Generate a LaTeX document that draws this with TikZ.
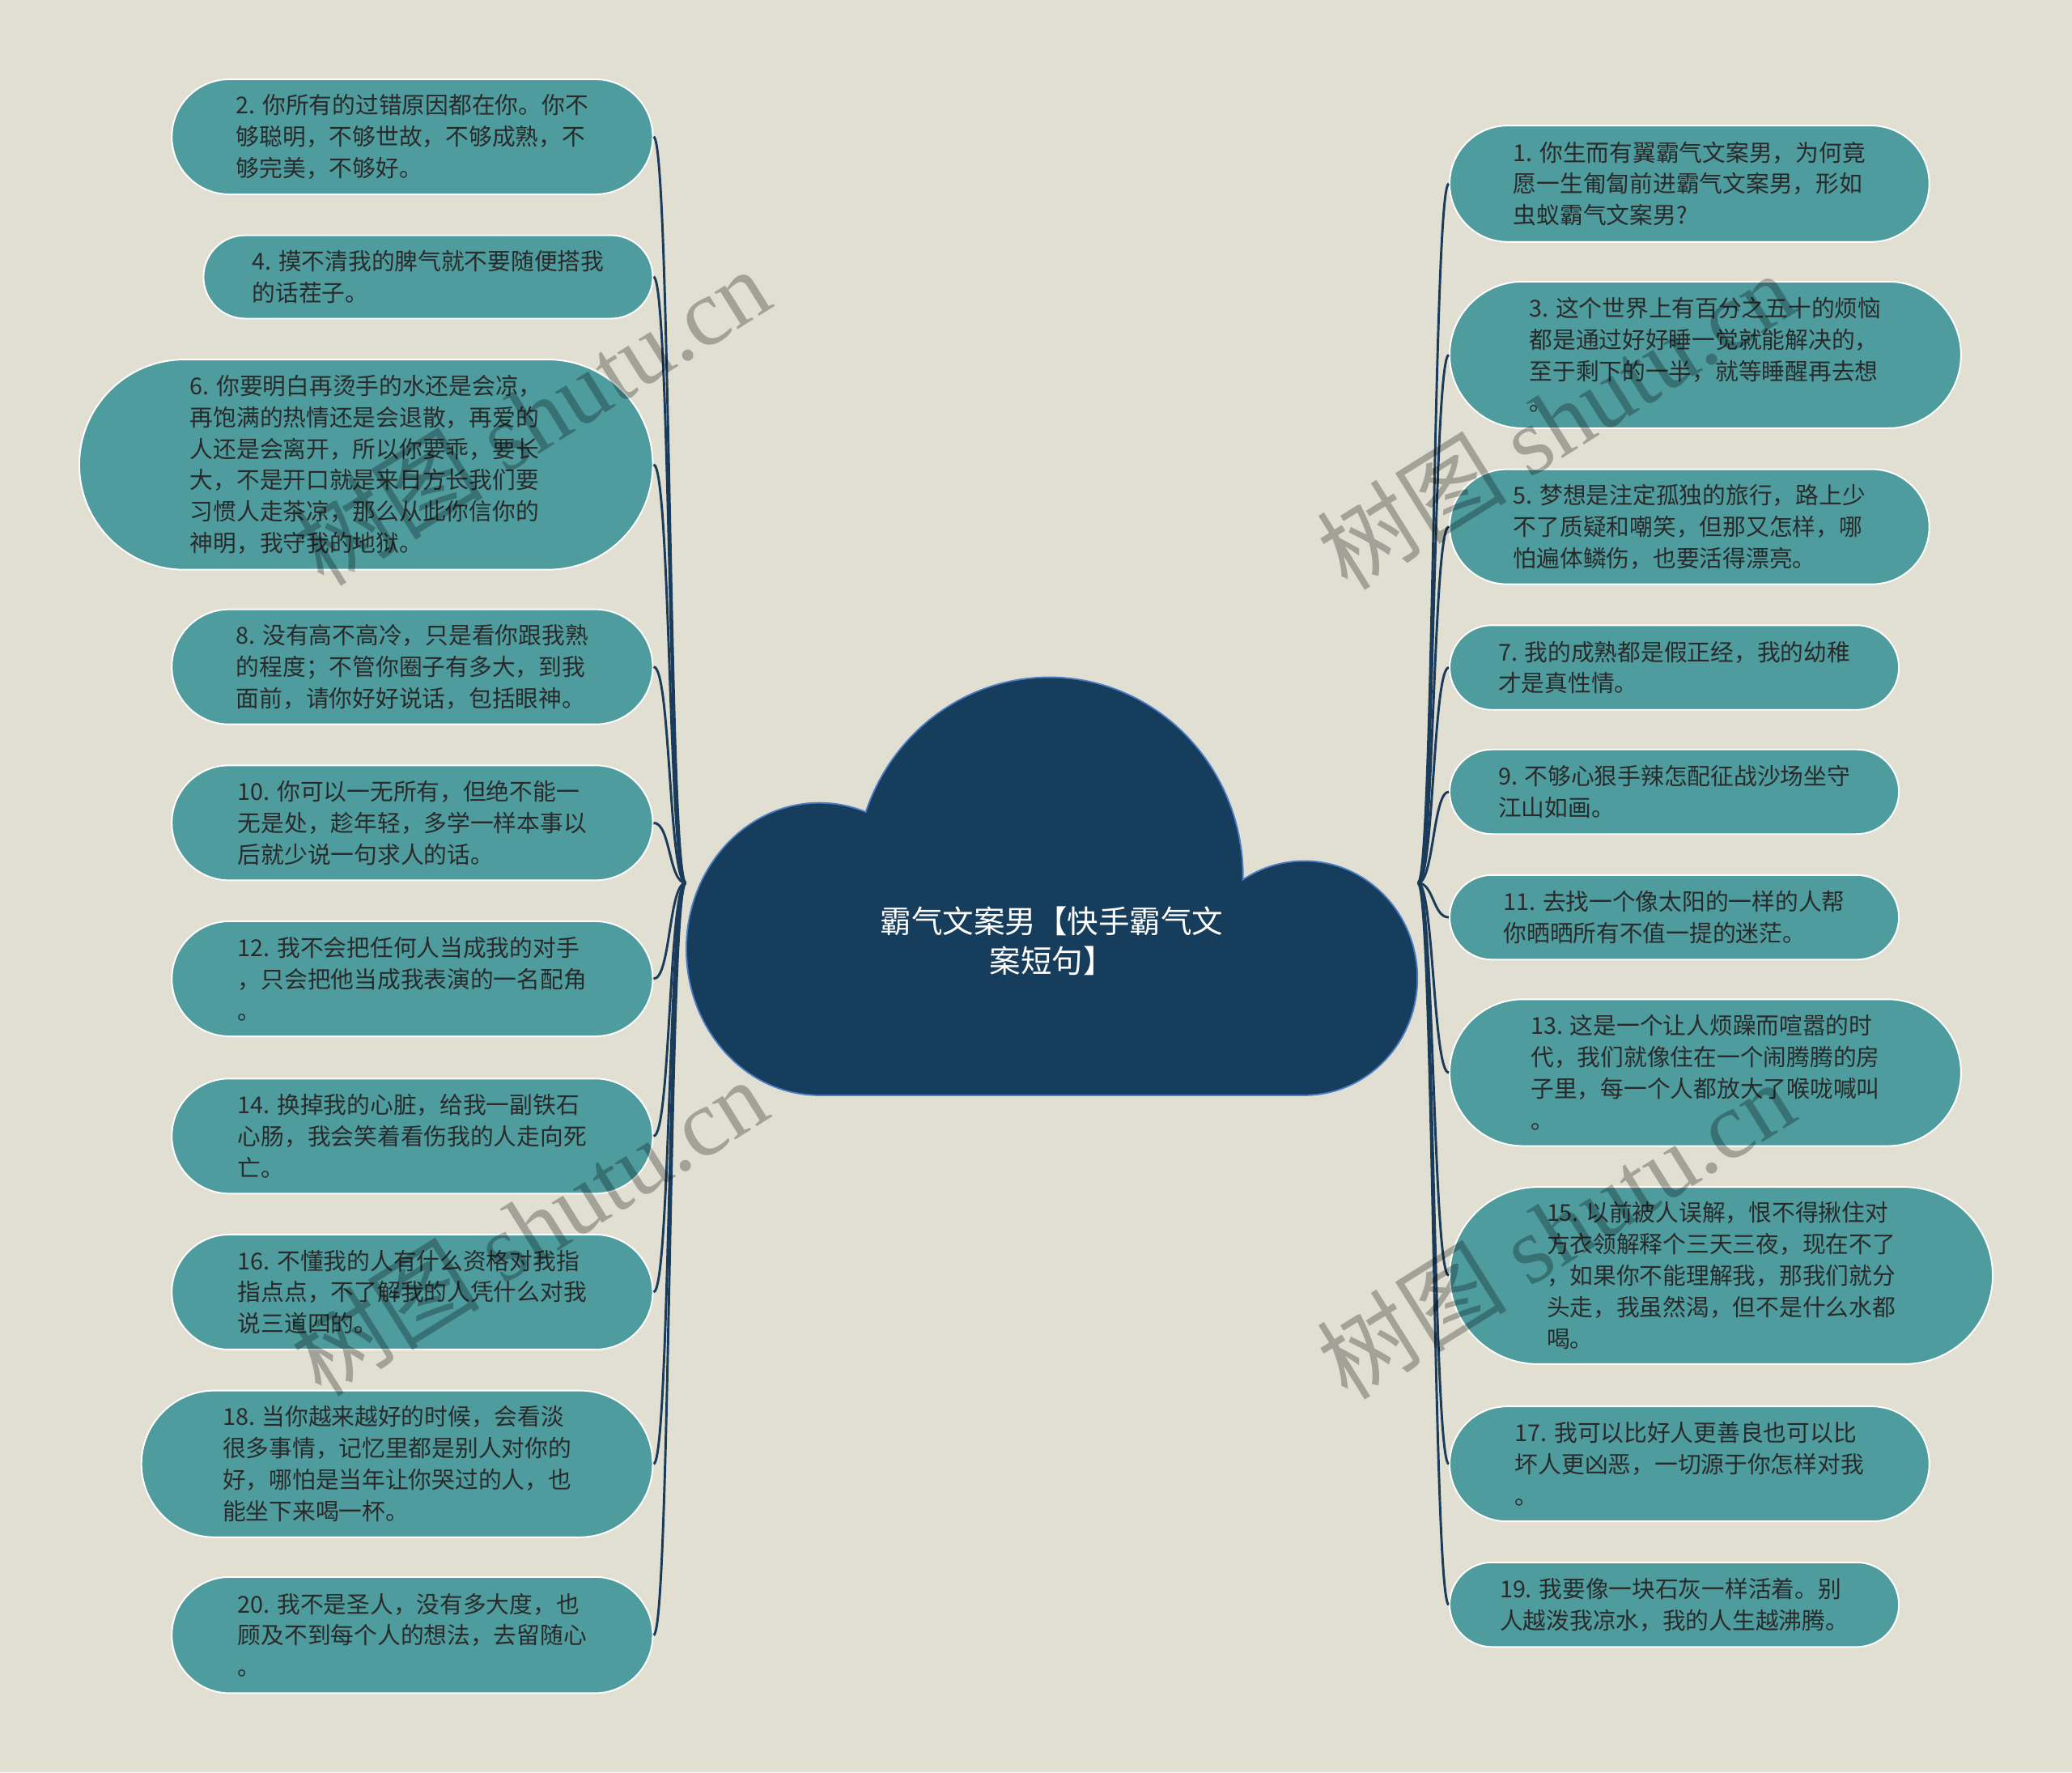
\documentclass[tikz,border=0pt]{standalone}
\usepackage{fontspec}
\setmainfont{Noto Sans CJK SC}
\newfontfamily\cjkfont{Noto Sans CJK SC}
\newfontfamily\wmfont{Liberation Serif}
\definecolor{bgc}{HTML}{E0DFD1}
\definecolor{tealc}{HTML}{4E9C9E}
\definecolor{navyc}{HTML}{173D5C}
\definecolor{cloudedge}{HTML}{4B7CC4}
\definecolor{connc}{HTML}{1B3B5A}
\definecolor{txtc}{HTML}{2A2A2A}
\newcommand\mkleaf[6]{\node[leaf, minimum width=#4pt, minimum height=#5pt, rounded corners={#5*0.5pt}] (#1) at (#2,#3) {#6};}
\begin{document}
\begin{tikzpicture}[x=0.5pt,y=-0.5pt,
  leaf/.style={draw=white, line width=0.6pt, fill=tealc, text=txtc, align=left, inner sep=0pt,
    font=\fontsize{8.8pt}{11.9pt}\selectfont},
  conn/.style={draw=connc, line width=0.9pt},
  cloudpart/.style={fill=navyc},
  cloudrim/.style={draw=cloudedge, line width=1.2pt},
  wm/.style={text=black, opacity=0.27, font=\wmfont\fontsize{36pt}{40pt}\selectfont, rotate=32}]
\useasboundingbox (0,0) rectangle (1568,1341);
\fill[bgc] (0,0) rectangle (1568,1341);

% left column
\mkleaf{n2}{312}{103.5}{182}{43.5}{2. 你所有的过错原因都在你。你不\\够聪明，不够世故，不够成熟，不\\够完美，不够好。}
\mkleaf{n4}{324}{209.5}{170}{31.5}{4. 摸不清我的脾气就不要随便搭我\\的话茬子。}
\mkleaf{n6}{277}{351.5}{217}{79.5}{6. 你要明白再烫手的水还是会凉，\\再饱满的热情还是会退散，再爱的\\人还是会离开，所以你要乖，要长\\大，不是开口就是来日方长我们要\\习惯人走茶凉，那么从此你信你的\\神明，我守我的地狱。}
\mkleaf{n8}{312}{504.5}{182}{43.5}{8. 没有高不高冷，只是看你跟我熟\\的程度；不管你圈子有多大，到我\\面前，请你好好说话，包括眼神。}
\mkleaf{n10}{312}{622.5}{182}{43.5}{10. 你可以一无所有，但绝不能一\\无是处，趁年轻，多学一样本事以\\后就少说一句求人的话。}
\mkleaf{n12}{312}{740.5}{182}{43.5}{12. 我不会把任何人当成我的对手\\，只会把他当成我表演的一名配角\\。}
\mkleaf{n14}{312}{859.5}{182}{43.5}{14. 换掉我的心脏，给我一副铁石\\心肠，我会笑着看伤我的人走向死\\亡。}
\mkleaf{n16}{312}{977.5}{182}{43.5}{16. 不懂我的人有什么资格对我指\\指点点，不了解我的人凭什么对我\\说三道四的。}
\mkleaf{n18}{300.5}{1107.5}{193.5}{55.5}{18. 当你越来越好的时候，会看淡\\很多事情，记忆里都是别人对你的\\好，哪怕是当年让你哭过的人，也\\能坐下来喝一杯。}
\mkleaf{n20}{312}{1237}{182}{44}{20. 我不是圣人，没有多大度，也\\顾及不到每个人的想法，去留随心\\。}

% right column
\mkleaf{n1}{1278.5}{139}{181.5}{44}{1. 你生而有翼霸气文案男，为何竟\\愿一生匍匐前进霸气文案男，形如\\虫蚁霸气文案男?}
\mkleaf{n3}{1290.5}{268.5}{193.5}{55.5}{3. 这个世界上有百分之五十的烦恼\\都是通过好好睡一觉就能解决的，\\至于剩下的一半，就等睡醒再去想\\。}
\mkleaf{n5}{1278.5}{398.5}{181.5}{43.5}{5. 梦想是注定孤独的旅行，路上少\\不了质疑和嘲笑，但那又怎样，哪\\怕遍体鳞伤，也要活得漂亮。}
\mkleaf{n7}{1267}{505}{170}{32}{7. 我的成熟都是假正经，我的幼稚\\才是真性情。}
\mkleaf{n9}{1267}{599}{170}{32}{9. 不够心狠手辣怎配征战沙场坐守\\江山如画。}
\mkleaf{n11}{1267}{694}{170}{32}{11. 去找一个像太阳的一样的人帮\\你晒晒所有不值一提的迷茫。}
\mkleaf{n13}{1290.5}{811.5}{193.5}{55.5}{13. 这是一个让人烦躁而喧嚣的时\\代，我们就像住在一个闹腾腾的房\\子里，每一个人都放大了喉咙喊叫\\。}
\mkleaf{n15}{1302.5}{965}{205.5}{67}{15. 以前被人误解，恨不得揪住对\\方衣领解释个三天三夜，现在不了\\，如果你不能理解我，那我们就分\\头走，我虽然渴，但不是什么水都\\喝。}
\mkleaf{n17}{1278.5}{1107.5}{181.5}{43.5}{17. 我可以比好人更善良也可以比\\坏人更凶恶，一切源于你怎样对我\\。}
\mkleaf{n19}{1267}{1214}{170}{32}{19. 我要像一块石灰一样活着。别\\人越泼我凉水，我的人生越沸腾。}

% connectors
\coordinate (cl) at (519,668);
\coordinate (cr) at (1073,668);
\foreach \n in {n2,n4,n6,n8,n10,n12,n14,n16,n18,n20}
  \draw[conn] (cl) .. controls +(-13,0) and +(13,0) .. (\n.east);
\foreach \n in {n1,n3,n5,n7,n9,n11,n13,n15,n17,n19}
  \draw[conn] (cr) .. controls +(12,0) and +(-12,0) .. (\n.west);

% cloud (rim drawn behind, fill on top)
\path[cloudrim] (620,718) ellipse [x radius=100, y radius=110];
\path[cloudrim] (794,663) ellipse [x radius=146, y radius=150];
\path[cloudrim] (987,740) ellipse [x radius=85, y radius=88];
\path[cloudrim] (620,700) rectangle (987,828);
\path[cloudpart] (620,718) ellipse [x radius=100, y radius=110];
\path[cloudpart] (794,663) ellipse [x radius=146, y radius=150];
\path[cloudpart] (987,740) ellipse [x radius=85, y radius=88];
\path[cloudpart] (620,700) rectangle (987,828);
\node[text=white, align=center, font=\fontsize{11.8pt}{15pt}\selectfont] (root) at (796,712) {霸气文案男【快手霸气文\\案短句】};

% watermarks
\node[wm] (wm1) at (402,315) {{\cjkfont 树图} shutu.cn};
\node[wm] (wm2) at (400,928) {{\cjkfont 树图} shutu.cn};
\node[wm] (wm3) at (1177,318) {{\cjkfont 树图} shutu.cn};
\node[wm] (wm4) at (1177,930) {{\cjkfont 树图} shutu.cn};
\end{tikzpicture}
\end{document}
